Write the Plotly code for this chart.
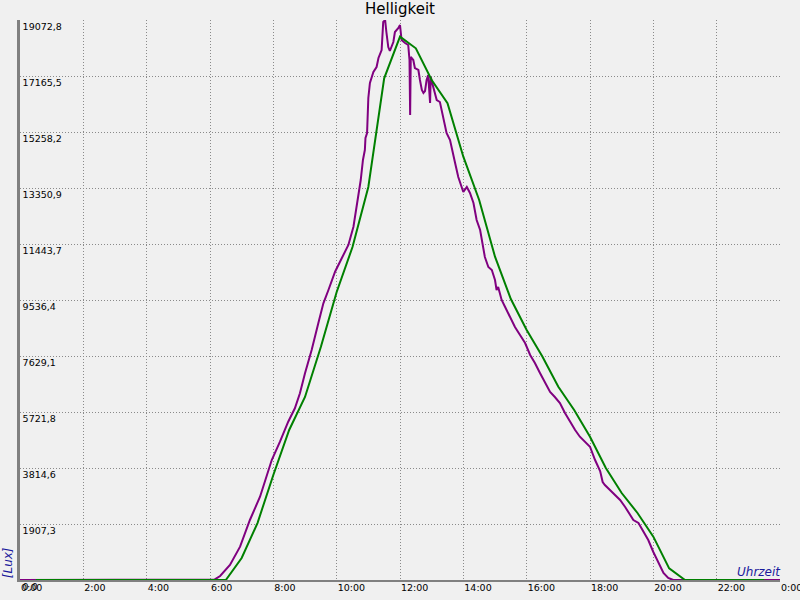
import plotly.graph_objects as go

# Purple series (fine resolution): time in hours, brightness in lux
purple_hours = [0.0, 6.15, 6.32, 6.63, 6.95, 7.26, 7.58, 7.79, 7.95, 8.21, 8.47, 8.68, 8.84,
                9.00, 9.21, 9.42, 9.58, 9.74, 9.95, 10.16, 10.37, 10.53, 10.63, 10.76, 10.83,
                10.89, 10.91, 10.96, 11.00, 11.05, 11.16, 11.26, 11.32, 11.42, 11.47, 11.53,
                11.57, 11.63, 11.68, 11.79, 11.84, 11.95, 12.00, 12.05, 12.16, 12.26, 12.30,
                12.32, 12.34, 12.42, 12.47, 12.58, 12.63, 12.69, 12.74, 12.79, 12.84, 12.89,
                12.95, 12.97, 13.05, 13.11, 13.16, 13.26, 13.32, 13.37, 13.47, 13.58, 13.68,
                13.74, 13.84, 13.95, 14.00, 14.11, 14.21, 14.32, 14.42, 14.53, 14.63, 14.68,
                14.79, 14.90, 15.00, 15.05, 15.10, 15.21, 15.32, 15.47, 15.63, 15.79, 15.95,
                16.11, 16.26, 16.42, 16.58, 16.74, 16.89, 17.05, 17.21, 17.37, 17.53, 17.68,
                17.84, 18.00, 18.16, 18.32, 18.40, 18.47, 18.63, 18.79, 18.95, 19.11, 19.26,
                19.37, 19.53, 19.68, 19.84, 20.00, 20.16, 20.32, 20.47, 20.63, 24.0]
purple_lux = [0, 20, 136, 511, 1134, 2044, 2837, 3518, 4087, 4710, 5391, 5848, 6359,
              7040, 7833, 8743, 9424, 9877, 10500, 10957, 11410, 12033, 12714, 13623, 14305,
              14645, 15054, 15224, 16416, 16927, 17302, 17472, 17779, 18051, 19005, 19073,
              18664, 18153, 18017, 18324, 18664, 18800, 18903, 18392, 18290, 18221, 17711,
              15837, 17813, 17711, 17438, 17370, 17030, 16689, 16586, 16655, 17030, 17200,
              16246, 17132, 16791, 16586, 16348, 16280, 16008, 15735, 15224, 14986, 14543,
              14203, 13726, 13351, 13215, 13385, 13181, 12840, 12261, 11920, 11341, 11001,
              10660, 10558, 10218, 9877, 9979, 9536, 9298, 8957, 8617, 8344, 8072,
              7663, 7391, 7050, 6710, 6403, 6233, 6028, 5688, 5382, 5109, 4880,
              4710, 4540, 4087, 3712, 3338, 3236, 3065, 2895, 2725, 2486, 2214,
              2044, 1941, 1635, 1362, 954, 579, 238, 68, 0, 0]

# Green series (half-hourly)
green_hours = [0.5, 6.5, 7.0, 7.5, 8.0, 8.5, 9.0, 9.5, 10.0, 10.5, 11.0, 11.5, 12.0, 12.5,
               13.0, 13.5, 14.0, 14.5, 15.0, 15.5, 16.0, 16.5, 17.0, 17.5, 18.0, 18.5,
               19.0, 19.5, 20.0, 20.5, 21.0, 23.5]
green_lux = [0, 0, 750, 1940, 3576, 5109, 6233, 7936, 9809, 11341, 13385, 17087, 18504, 18109,
             17029, 16236, 14417, 12942, 11011, 9570, 8515, 7605, 6584, 5790, 4880, 3814,
             2963, 2282, 1476, 397, 0, 0]

x_tick_vals = [0, 2, 4, 6, 8, 10, 12, 14, 16, 18, 20, 22, 24]
x_tick_text = ["0:00", "2:00", "4:00", "6:00", "8:00", "10:00", "12:00", "14:00",
               "16:00", "18:00", "20:00", "22:00", "0:00"]
y_tick_vals = [0, 1907.28, 3814.56, 5721.84, 7629.12, 9536.4, 11443.68, 13350.96,
               15258.24, 17165.52, 19072.8]
y_tick_text = ["0,0", "1907,3", "3814,6", "5721,8", "7629,1", "9536,4", "11443,7",
               "13350,9", "15258,2", "17165,5", "19072,8"]

fig = go.Figure()
fig.add_trace(go.Scatter(x=purple_hours, y=purple_lux, mode="lines",
                         line=dict(color="#800080", width=2), showlegend=False))
fig.add_trace(go.Scatter(x=green_hours, y=green_lux, mode="lines",
                         line=dict(color="#008000", width=2), showlegend=False))

tick_font = dict(family="DejaVu Sans", size=9.5, color="black")
fig.update_layout(
    width=800, height=600,
    margin=dict(l=20, r=20, t=20, b=20, autoexpand=False),
    paper_bgcolor="#f0f0f0", plot_bgcolor="#f0f0f0",
    title=dict(text="Helligkeit", x=0.5, xanchor="center", y=0.986, yanchor="middle",
               yref="container", automargin=False,
               font=dict(family="DejaVu Sans", size=15, color="black")),
    xaxis=dict(range=[0, 24], tickvals=x_tick_vals, ticktext=x_tick_text,
               showgrid=True, gridcolor="#8a8a8a", griddash="1px,2px", gridwidth=1,
               showline=True, linecolor="#808080", linewidth=2, zeroline=False,
               ticks="", ticklabelposition="outside right", ticklabeloverflow="allow",
               tickfont=tick_font, automargin=False, ticklabelstandoff=-2,
               layer="below traces", fixedrange=True),
    yaxis=dict(range=[0, 19072.8], tickvals=y_tick_vals, ticktext=y_tick_text,
               showgrid=True, gridcolor="#8a8a8a", griddash="1px,2px", gridwidth=1,
               showline=True, linecolor="#808080", linewidth=3, zeroline=False,
               ticks="", ticklabelposition="inside bottom", ticklabeloverflow="allow",
               tickfont=tick_font, automargin=False,
               layer="below traces", fixedrange=True),
    annotations=[
        dict(text="Uhrzeit", xref="paper", yref="paper", x=1.0, y=0.0, xanchor="right",
             yanchor="bottom", showarrow=False, yshift=-1, xshift=3,
             font=dict(family="DejaVu Sans", size=12, color="#1a1a9c", style="italic")),
        dict(text="[Lux]", xref="paper", yref="paper", x=-0.025, y=0.03, xanchor="left",
             yanchor="middle", showarrow=False, textangle=-90, xshift=-2,
             font=dict(family="DejaVu Sans", size=12, color="#1a1a9c", style="italic")),
    ],
)

fig.write_html(
    "out.html",
    config={"displayModeBar": False},
    post_script="document.body.style.margin='0px';"
                "document.body.style.background='#f0f0f0';"
                "document.body.style.overflow='hidden';",
)
